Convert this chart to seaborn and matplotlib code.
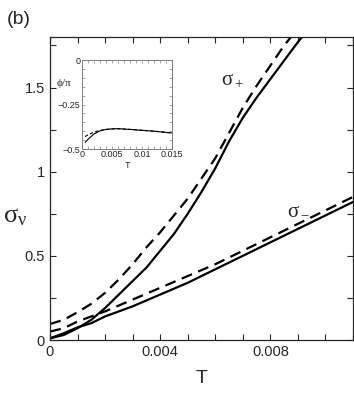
import numpy as np
import pandas as pd
import matplotlib
matplotlib.use("Agg")
import matplotlib.pyplot as plt
from matplotlib.ticker import MultipleLocator, FixedLocator
import seaborn as sns

# sigma_+ curves
T_plus_solid = [0, 0.0005, 0.001, 0.0015, 0.002, 0.0025, 0.003, 0.0035, 0.004, 0.0045, 0.005,
                0.0055, 0.006, 0.0065, 0.007, 0.0075, 0.008, 0.0085, 0.009, 0.0092]
s_plus_solid = [0.01, 0.03, 0.07, 0.12, 0.19, 0.27, 0.35, 0.43, 0.53, 0.63, 0.75,
                0.88, 1.02, 1.18, 1.32, 1.44, 1.55, 1.66, 1.77, 1.81]
T_plus_dash = [0, 0.0005, 0.001, 0.0015, 0.002, 0.0025, 0.003, 0.0035, 0.004, 0.0045, 0.005,
               0.0055, 0.006, 0.0065, 0.007, 0.0075, 0.008, 0.0085, 0.0088]
s_plus_dash = [0.095, 0.12, 0.165, 0.215, 0.28, 0.36, 0.45, 0.55, 0.64, 0.74, 0.84,
               0.96, 1.08, 1.23, 1.38, 1.51, 1.63, 1.75, 1.81]

# sigma_- curves
T_minus = [0, 0.0005, 0.001, 0.0015, 0.002, 0.003, 0.004, 0.005, 0.006, 0.007, 0.008, 0.009, 0.010, 0.011]
s_minus_solid = [0.01, 0.04, 0.075, 0.10, 0.14, 0.20, 0.27, 0.34, 0.42, 0.50, 0.58, 0.66, 0.74, 0.82]
s_minus_dash = [0.05, 0.07, 0.11, 0.14, 0.17, 0.24, 0.31, 0.38, 0.45, 0.53, 0.61, 0.69, 0.77, 0.85]

# inset phi/pi
T_inset = [0.0005, 0.001, 0.002, 0.003, 0.004, 0.005, 0.006, 0.008, 0.010, 0.012, 0.015]
phi_solid = [-0.463, -0.445, -0.415, -0.398, -0.39, -0.387, -0.386, -0.39, -0.395, -0.40, -0.41]
phi_dash = [-0.43, -0.42, -0.405, -0.395, -0.39, -0.387, -0.386, -0.39, -0.395, -0.40, -0.41]

sns.set_style("ticks")
plt.rcParams['font.family'] = ['Liberation Sans', 'DejaVu Sans']
plt.rcParams['mathtext.fontset'] = 'custom'
plt.rcParams['mathtext.rm'] = 'Liberation Serif'
plt.rcParams['mathtext.it'] = 'Liberation Serif'
plt.rcParams['mathtext.default'] = 'it'

fig = plt.figure(figsize=(3.54, 4.0), dpi=100)
ax = fig.add_axes([0.1412, 0.15, 0.856, 0.7575])

lw = 1.6
dash = (0, (5, 3))
sns.lineplot(x=T_plus_solid, y=s_plus_solid, ax=ax, color='black', lw=lw)
sns.lineplot(x=T_plus_dash, y=s_plus_dash, ax=ax, color='black', lw=lw, linestyle=dash)
sns.lineplot(x=T_minus, y=s_minus_solid, ax=ax, color='black', lw=lw)
sns.lineplot(x=T_minus, y=s_minus_dash, ax=ax, color='black', lw=lw, linestyle=dash)

ax.set_xlim(0, 0.011)
ax.set_ylim(0, 1.8)
ax.xaxis.set_major_locator(FixedLocator([0, 0.004, 0.008]))
ax.set_xticklabels(['0', '0.004', '0.008'])
ax.xaxis.set_minor_locator(MultipleLocator(0.001))
ax.yaxis.set_major_locator(FixedLocator([0, 0.5, 1, 1.5]))
ax.set_yticklabels(['0', '0.5', '1', '1.5'])
ax.yaxis.set_minor_locator(MultipleLocator(0.25))
ax.tick_params(which='both', direction='in', top=True, right=True, labelsize=10.5, width=0.8, length=4)
for sp in ax.spines.values():
    sp.set_linewidth(0.9)

ax.set_xlabel('T', fontsize=14, labelpad=8)
ax.set_ylabel(r'$\sigma_\nu$', fontsize=19, rotation=0)
ax.yaxis.set_label_coords(-0.115, 0.37)

ax.text(0.0062, 1.52, r'$\sigma_+$', fontsize=15)
ax.text(0.0086, 0.75, r'$\sigma_-$', fontsize=15)
fig.text(0.02, 0.94, '(b)', fontsize=14)

# inset
ins = fig.add_axes([0.232, 0.6275, 0.254, 0.2225])
sns.lineplot(x=T_inset, y=phi_solid, ax=ins, color='black', lw=0.8)
sns.lineplot(x=T_inset, y=phi_dash, ax=ins, color='black', lw=0.8, linestyle=(0, (3, 2)))
ins.set_xlim(0, 0.015)
ins.set_ylim(-0.5, 0)
ins.xaxis.set_major_locator(FixedLocator([0, 0.005, 0.01, 0.015]))
ins.set_xticklabels(['0', '0.005', '0.01', '0.015'])
ins.xaxis.set_minor_locator(MultipleLocator(0.001))
ins.yaxis.set_major_locator(FixedLocator([-0.5, -0.25, 0]))
ins.set_yticklabels(['\u22120.5', '\u22120.25', '0'])
ins.yaxis.set_minor_locator(MultipleLocator(0.05))
ins.tick_params(which='both', direction='in', top=True, right=True, labelsize=6.5,
                length=2, width=0.5, color='gray', pad=1)
for sp in ins.spines.values():
    sp.set_color('gray')
    sp.set_linewidth(0.7)
ins.set_xlabel('T', fontsize=6.5, labelpad=1)
ins.set_ylabel(r'$\phi/\pi$', fontsize=8, rotation=0)
ins.yaxis.set_label_coords(-0.2, 0.66)

fig.savefig('out.png', dpi=100)
